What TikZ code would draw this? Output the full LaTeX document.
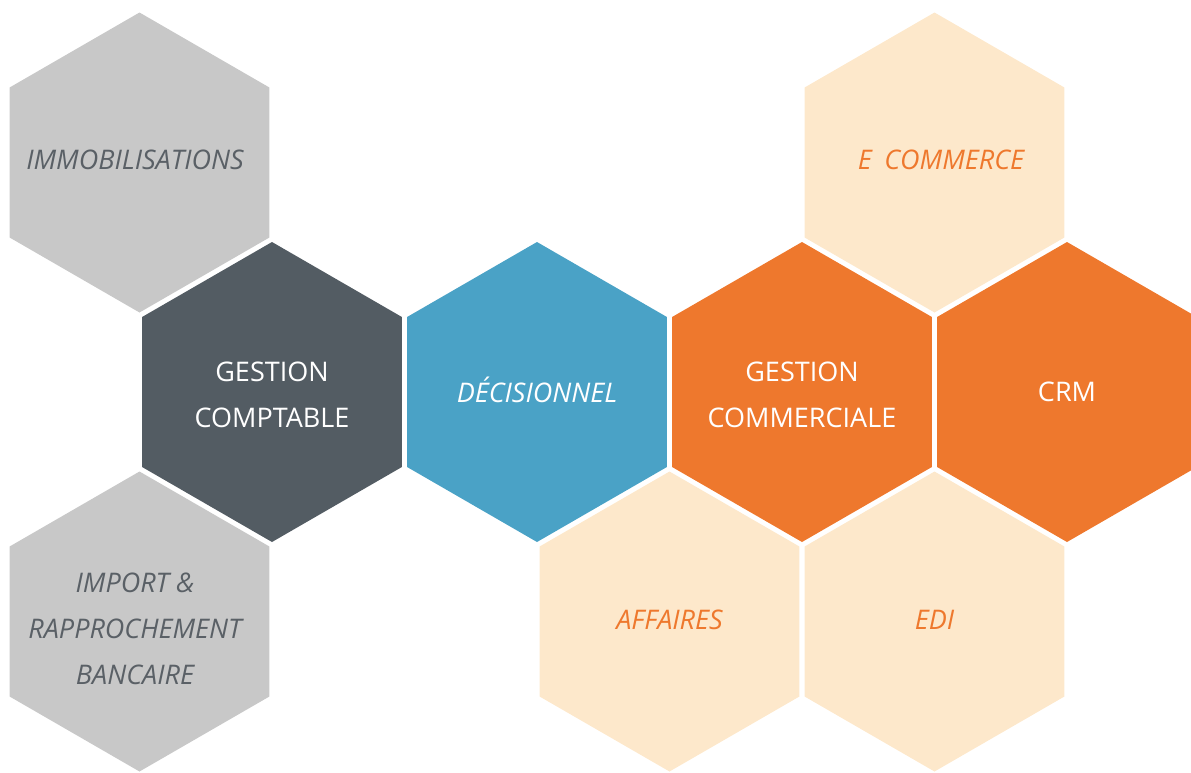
\documentclass[tikz,border=0pt]{standalone}
\usepackage{fontspec}
\setmainfont{Open Sans}
\usetikzlibrary{shapes.geometric}
\definecolor{hexgray}{HTML}{C8C8C8}
\definecolor{hexdark}{HTML}{535C63}
\definecolor{hexblue}{HTML}{4AA2C6}
\definecolor{hexorange}{HTML}{EE782D}
\definecolor{hexpale}{HTML}{FDE8CB}
\definecolor{txtgray}{HTML}{5A6066}
\begin{document}
\begin{tikzpicture}[x=1pt,y=-1pt,
  hexbox/.style={regular polygon, regular polygon sides=6, shape border rotate=30,
    minimum size=300pt, inner sep=0pt, outer sep=0pt, draw=none},
  lbl/.style={inner sep=0pt, align=center, font=\fontsize{27}{46}\selectfont},
  ilbl/.style={lbl, font=\fontsize{27}{46}\selectfont\itshape},
  graytxt/.style={ilbl, text=txtgray},
  whitetxt/.style={lbl, text=white},
  whiteitxt/.style={ilbl, text=white},
  orangetxt/.style={ilbl, text=hexorange}]
\path[use as bounding box] (0,0) rectangle (1191,772);
\clip (0,0) rectangle (1191,772);
% hexagons
\node[hexbox, fill=hexgray] (immo) at (139.5,162.5) {};
\node[hexbox, fill=hexgray] (import) at (139.5,621.5) {};
\node[hexbox, fill=hexdark] (compta) at (272,392) {};
\node[hexbox, fill=hexblue] (deci) at (537,392) {};
\node[hexbox, fill=hexorange] (commer) at (802,392) {};
\node[hexbox, fill=hexorange] (crm) at (1067,392) {};
\node[hexbox, fill=hexpale] (ecom) at (934.5,162.5) {};
\node[hexbox, fill=hexpale] (aff) at (669.5,621.5) {};
\node[hexbox, fill=hexpale] (edi) at (934.5,621.5) {};
% labels
\node[graytxt] (immot) at (135,160) {IMMOBILISATIONS};
\node[graytxt] (importt) at (135,629) {IMPORT \&\\RAPPROCHEMENT\\BANCAIRE};
\node[whitetxt] (comptat) at (272,395) {GESTION\\COMPTABLE};
\node[whiteitxt] (decit) at (537,390) {DÉCISIONNEL};
\node[whitetxt] (commert) at (802,395) {GESTION\\COMMERCIALE};
\node[whitetxt] (crmt) at (1067,392) {CRM};
\node[orangetxt] (ecomt) at (941,160) {E\hspace{0.2em} COMMERCE};
\node[orangetxt] (afft) at (669.5,620) {AFFAIRES};
\node[orangetxt] (edit) at (934.5,620) {EDI};
\end{tikzpicture}
\end{document}
